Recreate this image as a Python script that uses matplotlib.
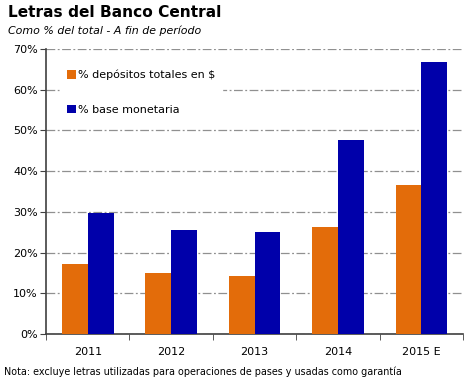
import matplotlib
matplotlib.use("Agg")
import matplotlib.pyplot as plt
import numpy as np

categories = ["2011", "2012", "2013", "2014", "2015 E"]
depositos = [17.2, 15.0, 14.3, 26.3, 36.6]
base_monetaria = [29.7, 25.6, 25.1, 47.7, 66.8]
yticks = [0, 10, 20, 30, 40, 50, 60, 70]

plt.rcParams['font.family'] = ['DejaVu Sans']
fig = plt.figure(figsize=(4.75, 3.83), dpi=100)
ax = fig.add_axes([0.097, 0.128, 0.878, 0.744])

x = np.arange(len(categories))
w = 0.31
ax.bar(x - w/2, depositos, w, color="#E36C0A", label="% depósitos totales en $", zorder=3)
ax.bar(x + w/2, base_monetaria, w, color="#0000AA", label="% base monetaria", zorder=3)

ax.set_xlim(-0.5, len(categories) - 0.5)
ax.set_ylim(0, 70)
ax.set_yticks(yticks)
ax.set_yticklabels([f"{v}%" for v in yticks], fontsize=8)
ax.set_xticks(x)
ax.set_xticklabels(categories, fontsize=8)
ax.tick_params(axis='x', length=0, pad=9.5)
ax.set_xticks(np.arange(-0.5, len(categories)), minor=True)
ax.tick_params(axis='x', which='minor', length=4, color="#404040")
ax.tick_params(axis='y', length=4, color="#404040", pad=2)
ax.yaxis.grid(True, color="#909090", linestyle=(0, (7, 2, 1.5, 2)), linewidth=0.9, zorder=0)
ax.set_axisbelow(True)
for s in ["top", "right"]:
    ax.spines[s].set_visible(False)
for s in ["left", "bottom"]:
    ax.spines[s].set_color("#404040")
    ax.spines[s].set_linewidth(1.2)

leg = ax.legend(loc="upper left", bbox_to_anchor=(0.02, 0.97), frameon=True, fontsize=8,
                handlelength=0.8, handleheight=0.8, handletextpad=0.2, labelspacing=2.2,
                borderpad=0.6, fancybox=False)
leg.get_frame().set_edgecolor("white")
leg.get_frame().set_facecolor("white")
leg.get_frame().set_alpha(1)

fig.text(0.016, 0.955, "Letras del Banco Central", fontsize=11.1, fontweight="bold", ha="left", va="baseline")
fig.text(0.017, 0.912, "Como % del total - A fin de período", fontsize=7.9, style="italic", ha="left", va="baseline")
fig.text(0.008, 0.02, "Nota: excluye letras utilizadas para operaciones de pases y usadas como garantía",
         fontsize=6.95, ha="left", va="baseline")

fig.savefig("out.png", dpi=100)
